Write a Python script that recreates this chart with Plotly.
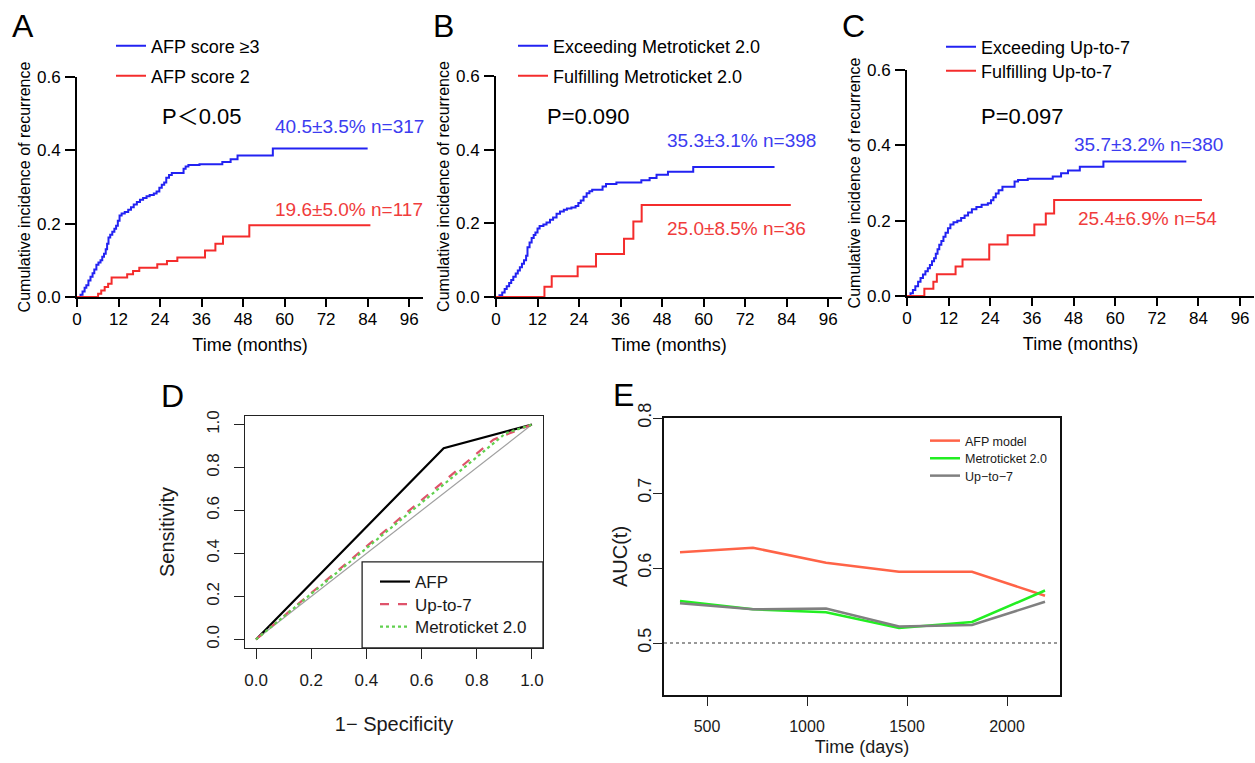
import plotly.graph_objects as go

W, H = 1255, 763
FONT = "Liberation Sans, Arial, Helvetica, sans-serif"


def fx(p):
    return p / W


def fy(p):
    return 1 - p / H


# ---------------- data ----------------
MONTH_TICKS = [0, 12, 24, 36, 48, 60, 72, 84, 96]
KM_Y_TICKS = [0.0, 0.2, 0.4, 0.6]

# Panel A: AFP score
A_hi_t = [0, 1.0, 1.6, 2.2, 2.7, 3.3, 3.9, 4.5, 5.0, 5.6, 6.2, 6.8, 7.3, 7.8, 8.3,
          8.7, 9.1, 9.6, 10.2, 10.8, 11.3, 11.8, 12.3, 12.9, 13.8, 14.8, 15.6, 16.4,
          17.3, 18.2, 19.1, 20.1, 21.0, 22.2, 23.0, 23.8, 24.5, 25.2, 25.8, 26.6,
          27.4, 30.8, 31.4, 32.2, 35.4, 42.0, 44.4, 46.4, 56.6, 84.0]
A_hi_y = [0, 0.006, 0.015, 0.025, 0.032, 0.045, 0.055, 0.065, 0.075, 0.088, 0.094,
          0.10, 0.11, 0.118, 0.13, 0.145, 0.162, 0.17, 0.178, 0.186, 0.194, 0.208,
          0.222, 0.228, 0.232, 0.238, 0.245, 0.252, 0.259, 0.265, 0.27, 0.275, 0.278,
          0.282, 0.288, 0.298, 0.306, 0.312, 0.325, 0.333, 0.338, 0.350, 0.356,
          0.360, 0.362, 0.368, 0.376, 0.386, 0.405, 0.405]
A_lo_t = [0, 6.1, 7.0, 8.0, 9.0, 10.0, 14.5, 16.2, 18.0, 23.2, 26.0, 29.0, 37.0,
          40.0, 42.2, 49.8, 84.8]
A_lo_y = [0, 0.009, 0.018, 0.027, 0.036, 0.053, 0.062, 0.071, 0.080, 0.089, 0.098,
          0.108, 0.127, 0.145, 0.165, 0.196, 0.196]

# Panel B: Metroticket 2.0
B_ex_t = [0, 1.0, 1.8, 2.5, 3.1, 3.8, 4.4, 5.0, 5.7, 6.3, 6.9, 7.5, 8.1, 8.7, 9.1,
          9.7, 10.3, 10.9, 11.4, 12.0, 12.6, 13.7, 14.6, 15.6, 16.5, 17.5, 18.5,
          19.6, 20.5, 21.8, 23.0, 23.8, 24.5, 25.3, 26.2, 27.0, 27.8, 30.8, 31.8,
          34.8, 42.0, 44.4, 46.4, 49.7, 57.0, 80.5]
B_ex_y = [0, 0.005, 0.012, 0.022, 0.029, 0.038, 0.046, 0.055, 0.064, 0.072, 0.081,
          0.090, 0.100, 0.112, 0.135, 0.148, 0.160, 0.168, 0.175, 0.186, 0.193,
          0.197, 0.202, 0.210, 0.216, 0.226, 0.232, 0.237, 0.240, 0.243, 0.247,
          0.255, 0.262, 0.272, 0.282, 0.287, 0.291, 0.300, 0.307, 0.311, 0.317,
          0.323, 0.332, 0.340, 0.353, 0.353]
B_ful_t = [0, 14.0, 16.1, 23.6, 28.9, 37.0, 39.7, 42.1, 85.2]
B_ful_y = [0, 0.028, 0.056, 0.083, 0.117, 0.158, 0.205, 0.250, 0.250]

# Panel C: Up-to-7
C_ex_t = [0, 1.0, 1.7, 2.4, 3.2, 3.9, 4.6, 5.3, 6.0, 6.6, 7.2, 7.8, 8.3, 8.8, 9.3,
          9.9, 10.5, 11.1, 11.8, 12.5, 13.4, 14.5, 15.6, 16.6, 17.6, 18.7, 20.0,
          21.5, 23.3, 24.2, 24.9, 25.6, 26.4, 27.5, 31.0, 32.0, 34.8, 42.0, 44.4,
          46.4, 49.8, 56.6, 80.5]
C_ex_y = [0, 0.007, 0.016, 0.026, 0.038, 0.048, 0.057, 0.066, 0.074, 0.082, 0.092,
          0.10, 0.112, 0.124, 0.136, 0.146, 0.157, 0.168, 0.180, 0.190, 0.196,
          0.200, 0.207, 0.214, 0.222, 0.230, 0.236, 0.242, 0.246, 0.254, 0.262,
          0.272, 0.281, 0.290, 0.304, 0.308, 0.311, 0.317, 0.326, 0.333, 0.343,
          0.357, 0.357]
C_ful_t = [0, 5.0, 7.6, 8.6, 14.0, 16.0, 23.7, 29.0, 36.7, 40.0, 42.4, 85.0]
C_ful_y = [0, 0.019, 0.038, 0.058, 0.078, 0.097, 0.137, 0.161, 0.190, 0.219,
           0.255, 0.255]

# Panel D: ROC
ROC_TICKS = [0.0, 0.2, 0.4, 0.6, 0.8, 1.0]
afp_fpr = [0.0, 0.68, 1.0]
afp_tpr = [0.0, 0.89, 1.0]
upto7_fpr = [0.0, 0.86, 1.0]
upto7_tpr = [0.0, 0.93, 1.0]
metro_fpr = [0.0, 0.905, 1.0]
metro_tpr = [0.0, 0.96, 1.0]
ref_fpr = [0.0, 1.0]
ref_tpr = [0.0, 1.0]

# Panel E: time-dependent AUC
days = [365, 730, 1095, 1460, 1825, 2190]
auc_afp = [0.621, 0.627, 0.607, 0.595, 0.595, 0.563]
auc_metro = [0.556, 0.545, 0.541, 0.520, 0.528, 0.570]
auc_upto7 = [0.553, 0.545, 0.546, 0.522, 0.524, 0.555]
DAY_TICKS = [500, 1000, 1500, 2000]
AUC_TICKS = [0.5, 0.6, 0.7, 0.8]

# ---------------- figure ----------------
BLUE = "#2222f2"
RED = "#f42c2c"
BLUE_TXT = "#3c3cf0"
RED_TXT = "#f03c3c"
R_TXT = "#1a1a1a"

fig = go.Figure()
legends = {}


def single_legend(key, x, y, size, color, bg="rgba(0,0,0,0)"):
    legends[key] = dict(x=fx(x), y=fy(y), xanchor="left", yanchor="middle",
                        bgcolor=bg, borderwidth=0,
                        font=dict(family=FONT, size=size, color=color))


def km(x, y, name, color, ax, leg):
    fig.add_trace(go.Scatter(
        x=x, y=y, mode="lines", name=name,
        line=dict(color=color, width=2, shape="hv"),
        xaxis="x" + ax, yaxis="y" + ax, legend=leg, hoverinfo="skip"))


km(A_hi_t, A_hi_y, "AFP score ≥3", BLUE, "", "legend")
km(A_lo_t, A_lo_y, "AFP score 2", RED, "", "legend2")
km(B_ex_t, B_ex_y, "Exceeding Metroticket 2.0", BLUE, "2", "legend3")
km(B_ful_t, B_ful_y, "Fulfilling Metroticket 2.0", RED, "2", "legend4")
km(C_ex_t, C_ex_y, "Exceeding Up-to-7", BLUE, "3", "legend5")
km(C_ful_t, C_ful_y, "Fulfilling Up-to-7", RED, "3", "legend6")
single_legend("legend", 111, 46, 18, "black")
single_legend("legend2", 111, 76, 18, "black")
single_legend("legend3", 513, 46, 18, "black")
single_legend("legend4", 513, 76, 18, "black")
single_legend("legend5", 941, 47, 18, "black")
single_legend("legend6", 941, 71, 18, "black")

# ROC
fig.add_trace(go.Scatter(x=ref_fpr, y=ref_tpr, mode="lines", showlegend=False,
                         line=dict(color="#a0a0a0", width=1.2),
                         xaxis="x4", yaxis="y4", hoverinfo="skip"))
fig.add_trace(go.Scatter(x=afp_fpr, y=afp_tpr, mode="lines", name="AFP",
                         line=dict(color="black", width=2.2),
                         xaxis="x4", yaxis="y4", legend="legend7"))
fig.add_trace(go.Scatter(x=upto7_fpr, y=upto7_tpr, mode="lines", name="Up-to-7",
                         line=dict(color="#DF536B", width=2.2, dash="dash"),
                         xaxis="x4", yaxis="y4", legend="legend8"))
fig.add_trace(go.Scatter(x=metro_fpr, y=metro_tpr, mode="lines", name="Metroticket 2.0",
                         line=dict(color="#61D04F", width=2.2, dash="dot"),
                         xaxis="x4", yaxis="y4", legend="legend9"))
single_legend("legend7", 375, 582, 17, R_TXT)
single_legend("legend8", 375, 604.5, 17, R_TXT)
single_legend("legend9", 375, 627, 17, R_TXT)
# frame of the ROC legend (in axis-domain fractions)
fig.add_shape(type="rect", xref="x4 domain", yref="y4 domain",
              x0=0.393, x1=1.0, y0=0.0, y1=0.371,
              line=dict(color="#222", width=1.3), fillcolor="white", layer="below")

# AUC(t)
fig.add_trace(go.Scatter(x=days, y=auc_afp, mode="lines", name="AFP model",
                         line=dict(color="#FF6347", width=2.5),
                         xaxis="x5", yaxis="y5", legend="legend10"))
fig.add_trace(go.Scatter(x=days, y=auc_metro, mode="lines", name="Metroticket 2.0",
                         line=dict(color="#22EE22", width=2.5),
                         xaxis="x5", yaxis="y5", legend="legend11"))
fig.add_trace(go.Scatter(x=days, y=auc_upto7, mode="lines", name="Up−to−7",
                         line=dict(color="#808080", width=2.5),
                         xaxis="x5", yaxis="y5", legend="legend12"))
single_legend("legend10", 925, 441, 12.5, R_TXT)
single_legend("legend11", 925, 458.5, 12.5, R_TXT)
single_legend("legend12", 925, 476, 12.5, R_TXT)

fig.add_shape(type="line", xref="x5 domain", x0=0, x1=1, yref="y5", y0=0.5, y1=0.5,
              line=dict(color="#777777", width=1.5, dash="dot"))


# ---------------- axes ----------------
def km_x(d0, d1, anchor):
    return dict(domain=[fx(d0), fx(d1)], range=[0, 100], tickvals=MONTH_TICKS,
                ticks="outside", ticklen=8, tickwidth=2, tickcolor="black",
                showline=True, linewidth=2, linecolor="black", showgrid=False,
                zeroline=False, anchor=anchor, layer="below traces",
                tickfont=dict(family=FONT, size=17, color="black"), ticklabelstandoff=-2,
                title=dict(text="Time (months)", font=dict(family=FONT, size=18, color="black"),
                           standoff=10))


def km_y(top, bottom, anchor):
    return dict(domain=[fy(bottom), fy(top)], range=[0, 0.6], tickvals=KM_Y_TICKS,
                tickformat=".1f", ticks="outside", ticklen=10, tickwidth=2,
                tickcolor="black", showline=True, linewidth=2, linecolor="black",
                showgrid=False, zeroline=False, anchor=anchor, layer="below traces",
                tickfont=dict(family=FONT, size=17, color="black"), ticklabelstandoff=1,
                title=dict(text="Cumulative incidence of recurrence",
                           font=dict(family=FONT, size=16, color="black"), standoff=2))


layout = dict(
    width=W, height=H, autosize=False,
    margin=dict(l=0, r=0, t=0, b=0, pad=0, autoexpand=False),
    paper_bgcolor="white", plot_bgcolor="white",
    font=dict(family=FONT, color="black"),
    xaxis=km_x(77, 423, "y"), yaxis=km_y(77, 297, "x"),
    xaxis2=km_x(496, 842, "y2"), yaxis2=km_y(76, 297, "x2"),
    xaxis3=km_x(907, 1254, "y3"), yaxis3=km_y(70, 296, "x3"),
    xaxis4=dict(domain=[fx(245), fx(543)], range=[-0.04, 1.04], tickvals=ROC_TICKS,
                tickformat=".1f", ticks="outside", ticklen=10, tickwidth=1,
                tickcolor="#222", showline=True, mirror=True, linewidth=1.3,
                linecolor="#222", showgrid=False, zeroline=False, anchor="y4",
                tickfont=dict(family=FONT, size=17, color=R_TXT), ticklabelstandoff=6,
                title=dict(text="1− Specificity", font=dict(family=FONT, size=20, color=R_TXT),
                           standoff=28)),
    yaxis4=dict(domain=[fy(648), fy(416)], range=[-0.04, 1.04], tickvals=ROC_TICKS,
                tickformat=".1f", ticks="outside", ticklen=10, tickwidth=1,
                tickcolor="#222", showline=True, mirror=True, linewidth=1.3,
                linecolor="#222", showgrid=False, zeroline=False, anchor="x4",
                tickangle=-90, tickfont=dict(family=FONT, size=17, color=R_TXT),
                ticklabelstandoff=8,
                title=dict(text="Sensitivity", font=dict(family=FONT, size=20, color=R_TXT),
                           standoff=24)),
    xaxis5=dict(domain=[fx(664), fx(1060)], range=[285, 2265], tickvals=DAY_TICKS,
                ticks="outside", ticklen=9, tickwidth=1.2, tickcolor="#222",
                showline=True, mirror=True, linewidth=2, linecolor="#111",
                showgrid=False, zeroline=False, anchor="y5",
                tickfont=dict(family=FONT, size=16, color=R_TXT), ticklabelstandoff=7,
                title=dict(text="Time (days)", font=dict(family=FONT, size=18, color=R_TXT),
                           standoff=6)),
    yaxis5=dict(domain=[fy(695), fy(418)], range=[0.4307, 0.8], tickvals=AUC_TICKS,
                tickformat=".1f", ticks="outside", ticklen=9, tickwidth=1.2,
                tickcolor="#222", showline=True, mirror=True, linewidth=2,
                linecolor="#111", showgrid=False, zeroline=False, anchor="x5",
                tickangle=-90, tickfont=dict(family=FONT, size=18, color=R_TXT),
                ticklabelstandoff=-5,
                title=dict(text="AUC(t)", font=dict(family=FONT, size=20, color=R_TXT),
                           standoff=2)),
    showlegend=True,
)
layout.update(legends)
fig.update_layout(**layout)

# ---------------- annotations ----------------
ann = []


def text(x, y, s, size, color, xanchor="left"):
    ann.append(dict(x=fx(x), y=fy(y), xref="paper", yref="paper", text=s, showarrow=False,
                    xanchor=xanchor, yanchor="middle",
                    font=dict(family=FONT + ", Noto Sans CJK SC", size=size, color=color)))


for lab, x, y in [("A", 10, 26), ("B", 431, 26), ("C", 840, 26), ("D", 159, 396), ("E", 611, 395)]:
    text(x, y, lab, 32, "black")

text(160, 116, "P＜0.05", 22, "black")
text(545, 116, "P=0.090", 22, "black")
text(979, 116, "P=0.097", 22, "black")
text(273, 126, "40.5±3.5% n=317", 19, BLUE_TXT)
text(273, 209, "19.6±5.0% n=117", 19, RED_TXT)
text(665, 140, "35.3±3.1% n=398", 19, BLUE_TXT)
text(665, 228, "25.0±8.5% n=36", 19, RED_TXT)
text(1072, 144, "35.7±3.2% n=380", 19, BLUE_TXT)
text(1076, 218, "25.4±6.9% n=54", 19, RED_TXT)

fig.update_layout(annotations=ann)

fig.write_html("out.html", config={"displayModeBar": False},
               post_script="document.body.style.margin='0';")
